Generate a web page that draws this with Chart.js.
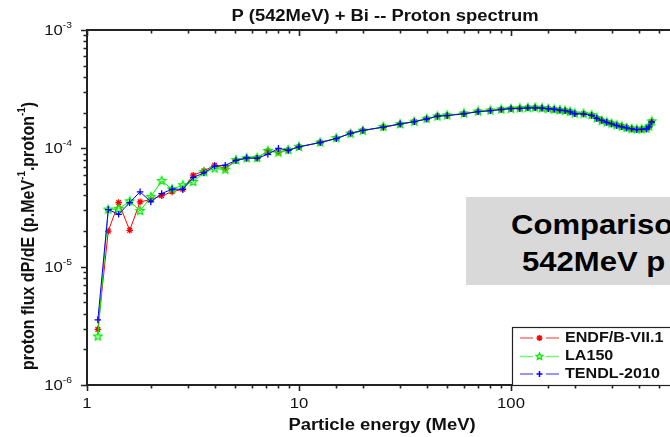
<!DOCTYPE html>
<html lang="en">
<head>
<meta charset="UTF-8">
<title>P (542MeV) + Bi -- Proton spectrum</title>
<script src="https://cdn.jsdelivr.net/npm/chart.js"></script>
<style>
    html, body {
        margin: 0;
        padding: 0;
        background: #fff;
        overflow: hidden;
        font-family: Arial, "Liberation Sans", sans-serif;
    }
    .wrap {
        position: relative;
        width: 770px;
        height: 437px;
    }
    .note {
        position: absolute;
        left: 466px;
        top: 197px;
        width: 330px;
        height: 88px;
        background: #d9d9d9;
        font-weight: bold;
        font-size: 27px;
        color: #000;
        white-space: nowrap;
    }
    .note div {
        position: absolute;
        transform: scaleX(1.15);
        transform-origin: left top;
        line-height: 1;
    }
</style>
</head>
<body>
<div class="wrap">
    <canvas id="spectrum" width="770" height="437"></canvas>
    <div class="note">
        <div style="left:45px; top:15px;">Comparison of</div>
        <div style="left:56px; top:52px;">542MeV p + Bi</div>
    </div>
</div>

<script>
// proton energies (MeV)
const energy = [1.125, 1.26, 1.41, 1.59, 1.78, 2.0, 2.25, 2.52, 2.83, 3.17, 3.56, 4.0, 4.49,
    5.04, 5.66, 6.35, 7.13, 8.0, 8.9, 10,
    12.6, 15, 17.5, 20, 25, 30, 35, 40, 45, 50,
    60, 70, 80, 90, 100, 110, 120, 130, 140, 150, 160, 170, 180, 190, 200,
    220, 240,
    254, 268, 283, 298, 315, 333, 351, 371, 392, 413, 436, 448, 461];

// dP/dE per library
const endf = [2.95e-6, 2.0e-5, 3.48e-5, 2.03e-5, 3.53e-5, 3.69e-5, 3.98e-5, 4.29e-5, 4.52e-5, 5.93e-5, 6.45e-5, 7.2e-5, 6.76e-5,
    7.9e-5, 8.2e-5, 8.3e-5, 9.5e-5, 9.3e-5, 9.66e-5, 1.03e-4,
    1.12e-4, 1.21e-4, 1.34e-4, 1.41e-4, 1.51e-4, 1.60e-4, 1.68e-4, 1.77e-4, 1.87e-4, 1.90e-4,
    1.96e-4, 2.05e-4, 2.08e-4, 2.13e-4, 2.16e-4, 2.17e-4, 2.20e-4, 2.20e-4, 2.18e-4, 2.16e-4, 2.13e-4, 2.10e-4, 2.08e-4, 2.04e-4, 1.96e-4,
    1.96e-4, 1.90e-4,
    1.79e-4, 1.71e-4, 1.66e-4, 1.61e-4, 1.57e-4, 1.53e-4, 1.49e-4, 1.46e-4, 1.45e-4, 1.45e-4, 1.46e-4, 1.52e-4, 1.68e-4];

const la150 = [2.57e-6, 3.04e-5, 3.08e-5, 3.57e-5, 2.96e-5, 3.89e-5, 5.31e-5, 4.52e-5, 4.88e-5, 5.21e-5, 6.3e-5, 6.76e-5, 6.6e-5,
    7.95e-5, 8.25e-5, 8.3e-5, 9.5e-5, 9.2e-5, 9.7e-5, 1.03e-4,
    1.12e-4, 1.22e-4, 1.33e-4, 1.41e-4, 1.52e-4, 1.60e-4, 1.68e-4, 1.78e-4, 1.86e-4, 1.90e-4,
    1.97e-4, 2.05e-4, 2.09e-4, 2.13e-4, 2.16e-4, 2.18e-4, 2.20e-4, 2.21e-4, 2.18e-4, 2.16e-4, 2.13e-4, 2.11e-4, 2.08e-4, 2.04e-4, 1.97e-4,
    1.96e-4, 1.91e-4,
    1.80e-4, 1.71e-4, 1.66e-4, 1.62e-4, 1.57e-4, 1.53e-4, 1.49e-4, 1.46e-4, 1.45e-4, 1.45e-4, 1.47e-4, 1.53e-4, 1.69e-4];

const tendl = [3.55e-6, 3.04e-5, 2.77e-5, 3.48e-5, 4.29e-5, 3.53e-5, 4.15e-5, 4.52e-5, 4.5e-5, 5.67e-5, 6.2e-5, 7.07e-5, 7.2e-5,
    7.9e-5, 8.3e-5, 8.25e-5, 8.9e-5, 1.0e-4, 9.6e-5, 1.03e-4,
    1.12e-4, 1.21e-4, 1.34e-4, 1.42e-4, 1.51e-4, 1.61e-4, 1.68e-4, 1.77e-4, 1.87e-4, 1.89e-4,
    1.96e-4, 2.04e-4, 2.08e-4, 2.13e-4, 2.17e-4, 2.17e-4, 2.20e-4, 2.20e-4, 2.19e-4, 2.16e-4, 2.14e-4, 2.10e-4, 2.08e-4, 2.03e-4, 1.96e-4,
    1.95e-4, 1.90e-4,
    1.79e-4, 1.72e-4, 1.66e-4, 1.61e-4, 1.56e-4, 1.52e-4, 1.49e-4, 1.46e-4, 1.44e-4, 1.45e-4, 1.46e-4, 1.52e-4, 1.67e-4];

const seriesNames = ['ENDF/B-VII.1', 'LA150', 'TENDL-2010'];
const seriesColors = ['#ff0000', '#00ee00', '#0000ff'];

// labelled ticks
const xTickValues = [1, 10, 100];
const xTickLabels = ['1', '10', '100'];
const yTickValues = [1e-6, 1e-5, 1e-4, 1e-3];
const yTickExps = ['-6', '-5', '-4', '-3'];

const SX = 1.15;   // text is drawn slightly wide
const INK = '#111';

// five-point open star for LA150
function makeStar(color, outer) {
    const size = Math.ceil(outer * 2 + 3);
    const c = document.createElement('canvas');
    c.width = size; c.height = size;
    const g = c.getContext('2d');
    g.strokeStyle = color;
    g.lineWidth = 1.3;
    g.beginPath();
    for (let i = 0; i < 10; i++) {
        const r = i % 2 === 0 ? outer : outer * 0.45;
        const a = -Math.PI / 2 + i * Math.PI / 5;
        const px = size / 2 + r * Math.cos(a), py = size / 2 + r * Math.sin(a);
        if (i === 0) g.moveTo(px, py); else g.lineTo(px, py);
    }
    g.closePath();
    g.stroke();
    return c;
}
const greenStar = makeStar(seriesColors[1], 4.3);
const greenStarSmall = makeStar(seriesColors[1], 3.6);
const pointStyles = ['star', greenStar, 'cross'];
const legendStyles = ['star', greenStarSmall, 'cross'];

function toPoints(vals) {
    return energy.map((e, i) => ({ x: e, y: vals[i] }));
}

function wideText(ctx, str, x, y, font, align) {
    ctx.save();
    ctx.font = font;
    ctx.fillStyle = INK;
    ctx.textBaseline = 'middle';
    ctx.textAlign = align;
    ctx.translate(x, y);
    ctx.scale(SX, 1);
    ctx.fillText(str, 0, 0);
    ctx.restore();
}

// text runs with superscripts, drawn left to right from x
function runs(ctx, parts, x, y, size, weight) {
    let cx = x;
    parts.forEach(([txt, sup]) => {
        const s = sup ? size * 0.62 : size;
        ctx.font = weight + ' ' + s + 'px Arial, "Liberation Sans", sans-serif';
        ctx.fillText(txt, cx, sup ? y - size * 0.38 : y);
        cx += ctx.measureText(txt).width;
    });
    return cx - x;
}
function runsWidth(ctx, parts, size, weight) {
    let w = 0;
    parts.forEach(([txt, sup]) => {
        const s = sup ? size * 0.62 : size;
        ctx.font = weight + ' ' + s + 'px Arial, "Liberation Sans", sans-serif';
        w += ctx.measureText(txt).width;
    });
    return w;
}

const frame = {
    id: 'frame',
    afterDraw(chart) {
        const ctx = chart.ctx;
        const a = chart.chartArea;
        const xs = chart.scales.x, ys = chart.scales.y;

        ctx.save();
        ctx.strokeStyle = '#222';
        ctx.lineWidth = 1.6;

        // axis ticks
        ctx.beginPath();
        xs.ticks.forEach(t => {
            const px = Math.round(xs.getPixelForValue(t.value)) + 0.5;
            const major = Math.abs(Math.log10(t.value) % 1) < 1e-6;
            const len = major ? 6 : 3.5;
            ctx.moveTo(px, a.bottom); ctx.lineTo(px, a.bottom + len);
            ctx.moveTo(px, a.top); ctx.lineTo(px, a.top + len);
        });
        ys.ticks.forEach(t => {
            const py = Math.round(ys.getPixelForValue(t.value)) + 0.5;
            const lg = Math.log10(t.value);
            const major = Math.abs(lg - Math.round(lg)) < 1e-6;
            const len = major ? 6 : 3.5;
            ctx.moveTo(a.left, py); ctx.lineTo(a.left - len, py);
        });
        ctx.stroke();

        // frame
        ctx.lineWidth = 2;
        ctx.strokeRect(a.left, a.top, a.right - a.left, a.bottom - a.top);

        // x tick labels
        xTickValues.forEach((v, i) => {
            wideText(ctx, xTickLabels[i], xs.getPixelForValue(v), a.bottom + 19,
                '14.5px Arial, "Liberation Sans", sans-serif', 'center');
        });

        // y tick labels, 10 with exponent
        ctx.fillStyle = INK;
        ctx.textBaseline = 'middle';
        ctx.textAlign = 'left';
        yTickValues.forEach((v, i) => {
            const parts = [['10', false], [yTickExps[i], true]];
            const w = runsWidth(ctx, parts, 14.5, 'normal') * SX;
            const py = ys.getPixelForValue(v) + 1;
            ctx.save();
            ctx.translate(a.left - 15 - w, py);
            ctx.scale(SX, 1);
            runs(ctx, parts, 0, 0, 14.5, 'normal');
            ctx.restore();
        });

        // titles
        wideText(ctx, 'P (542MeV) + Bi -- Proton spectrum', chart.width / 2, 17,
            'bold 16px Arial, "Liberation Sans", sans-serif', 'center');
        wideText(ctx, 'Particle energy (MeV)', 382, 426,
            'bold 16px Arial, "Liberation Sans", sans-serif', 'center');

        const yParts = [['proton flux dP/dE (p.MeV', false], ['-1', true], ['.proton', false], ['-1', true], [')', false]];
        ctx.save();
        ctx.translate(29, 236);
        ctx.rotate(-Math.PI / 2);
        ctx.scale(1, SX);
        const tw = runsWidth(ctx, yParts, 16, 'bold');
        ctx.fillStyle = INK;
        ctx.textBaseline = 'middle';
        runs(ctx, yParts, -tw / 2, 0, 16, 'bold');
        ctx.restore();

        // legend box
        const lx = 512, ly = 327;
        ctx.fillStyle = '#fff';
        ctx.fillRect(lx, ly, 300, a.bottom - ly);
        ctx.lineWidth = 1.2;
        ctx.strokeStyle = '#222';
        ctx.strokeRect(lx + 0.5, ly + 0.5, 300, a.bottom - ly);
        const rows = [338, 356.5, 374];
        seriesNames.forEach((name, i) => {
            const y = rows[i];
            const col = seriesColors[i];
            ctx.strokeStyle = col;
            ctx.globalAlpha = 0.55;
            ctx.lineWidth = 1.5;
            ctx.beginPath();
            ctx.moveTo(520, y); ctx.lineTo(533, y);
            ctx.moveTo(546, y); ctx.lineTo(559, y);
            ctx.stroke();
            ctx.globalAlpha = 1;
            ctx.fillStyle = col;
            Chart.helpers.drawPoint(ctx, {
                pointStyle: legendStyles[i], radius: 3, rotation: 0, borderWidth: 1.4
            }, 539.5, y);
            wideText(ctx, name, 565, y, 'bold 14px Arial, "Liberation Sans", sans-serif', 'left');
        });
        ctx.restore();
    }
};

const datasets = [endf, la150, tendl].map((vals, i) => ({
    label: seriesNames[i],
    data: toPoints(vals),
    borderColor: seriesColors[i],
    backgroundColor: seriesColors[i],
    borderWidth: 1,
    pointStyle: pointStyles[i],
    pointRadius: 3.3,
    pointBorderWidth: 1.3,
    tension: 0,
    order: 3 - i
}));

new Chart(document.getElementById('spectrum'), {
    type: 'line',
    data: { datasets: datasets },
    options: {
        responsive: false,
        animation: false,
        devicePixelRatio: 1,
        layout: { padding: { left: 0, top: 30, right: 47, bottom: 0 } },
        plugins: {
            legend: { display: false },
            title: { display: false },
            tooltip: { enabled: false }
        },
        scales: {
            x: {
                type: 'logarithmic',
                min: 1,
                max: 1000,
                grid: { display: false },
                border: { display: false },
                ticks: { display: false },
                afterFit(scale) { scale.height = 52; }
            },
            y: {
                type: 'logarithmic',
                min: 1e-6,
                max: 1e-3,
                grid: { display: false },
                border: { display: false },
                ticks: { display: false },
                afterFit(scale) { scale.width = 87; }
            }
        }
    },
    plugins: [frame]
});
</script>
</body>
</html>
